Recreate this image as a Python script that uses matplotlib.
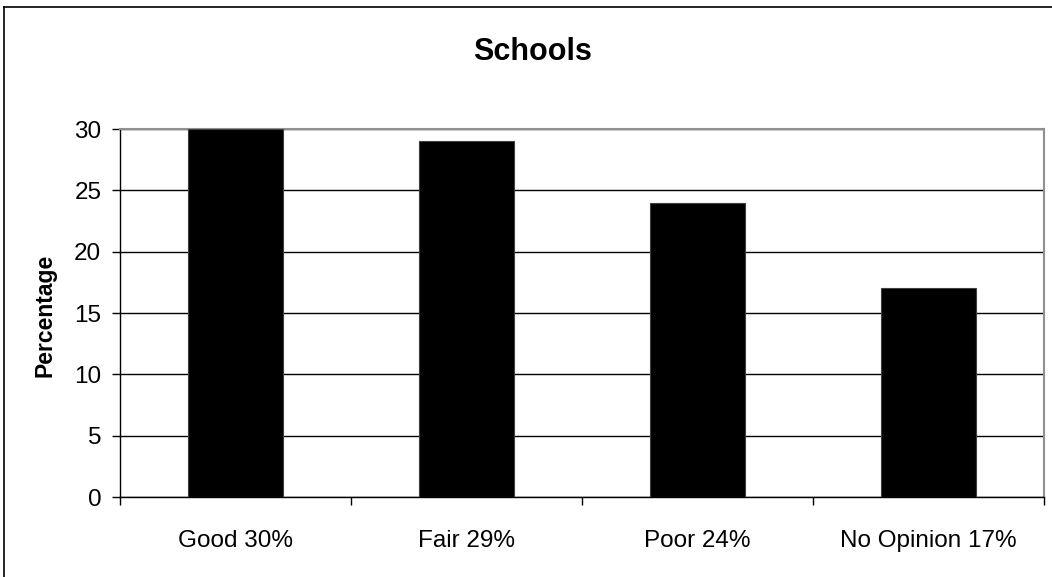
import matplotlib
matplotlib.use("Agg")
import matplotlib.pyplot as plt
from matplotlib.lines import Line2D

categories = ["Good 30%", "Fair 29%", "Poor 24%", "No Opinion 17%"]
values = [30, 29, 24, 17]
yticks = [0, 5, 10, 15, 20, 25, 30]

plt.rcParams['font.family'] = ['Liberation Sans', 'DejaVu Sans']

fig = plt.figure(figsize=(10.52, 5.77), dpi=100)
ax = fig.add_axes([120/1052, 1-497/577, (1044-120)/1052, (497-129)/577])

x = list(range(len(categories)))
ax.bar(x, values, width=0.41, color='black', edgecolor='#404040', linewidth=0.8, zorder=3)

ax.set_xlim(-0.5, len(categories)-0.5)
ax.set_ylim(0, 30)
ax.set_yticks(yticks)
ax.set_yticklabels([str(v) for v in yticks], fontsize=17.5)
ax.yaxis.grid(True, color='black', linewidth=1.0, zorder=1)
ax.set_axisbelow(True)

ax.set_xticks(x)
ax.set_xticklabels(categories, fontsize=17.5)
ax.set_xticks([i - 0.5 for i in range(len(categories)+1)], minor=True)
ax.tick_params(axis='x', which='major', length=0, pad=23.5)
ax.tick_params(axis='x', which='minor', length=6, width=1.0, color='black')
ax.tick_params(axis='y', length=6, width=1.0, pad=7.5, color='black')

for s in ['left', 'bottom']:
    ax.spines[s].set_color('black')
    ax.spines[s].set_linewidth(1.0)
for s in ['top', 'right']:
    ax.spines[s].set_color('#909090')
    ax.spines[s].set_linewidth(1.5)

fig.text(533/1052, 1-52/577, "Schools", ha='center', va='center', fontsize=22, fontweight='bold')
fig.text(45/1052, 1-315/577, "Percentage", ha='center', va='center', rotation=90, fontsize=16.5, fontweight='bold')

# figure border (left and top visible)
fig.add_artist(Line2D([3.5/1052, 3.5/1052], [0, 1-7/577], transform=fig.transFigure, color='black', linewidth=1.2))
fig.add_artist(Line2D([3.5/1052, 1], [1-7/577, 1-7/577], transform=fig.transFigure, color='black', linewidth=1.2))

fig.savefig("out.png", dpi=100)
